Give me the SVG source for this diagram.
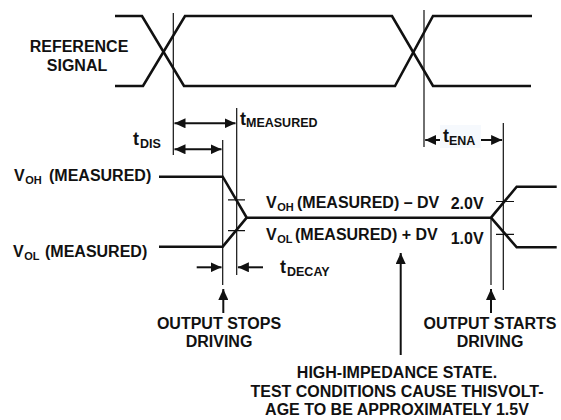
<svg xmlns="http://www.w3.org/2000/svg" width="561" height="420" viewBox="0 0 561 420">
<style>
text{font-family:"Liberation Sans",Arial,sans-serif;font-weight:bold;fill:#111}
.lb{font-size:16px}
.sub{font-size:11px}
.tt{font-size:18px}
.ts{font-size:12.5px}
.sig{fill:none;stroke:#111;stroke-width:2.6;stroke-linejoin:miter}
.thin{fill:none;stroke:#111;stroke-width:1.2}
.arr{fill:none;stroke:#111;stroke-width:2}
</style>
<defs>
<marker id="ah" markerUnits="userSpaceOnUse" markerWidth="12" markerHeight="10" refX="11" refY="5" orient="auto-start-reverse">
<path d="M0,0 L11,5 L0,10 z" fill="#111"/>
</marker>
</defs>
<rect width="561" height="420" fill="#fff"/>

<g id="reference-signal">
<path class="sig" d="M115,16 H142 L184,86 H395 L433,16 H532"/>
<path class="sig" d="M115,86 H143 L185,16 H392 L433,86 H531"/>
<text class="lb" x="79" y="52" text-anchor="middle">REFERENCE</text>
<text class="lb" x="77" y="71" text-anchor="middle">SIGNAL</text>
</g>

<g id="output-waveform">
<path class="sig" d="M159,176.7 H222.7 L246.7,217.7 H491 L516.7,186.7 H556.7"/>
<path class="sig" d="M159,246.7 H222.7 L246.7,217.7"/>
<path class="sig" d="M491,217.7 L516.7,247.3 H556.7"/>
<path class="thin" d="M228,199.8 H245 M228,230.7 H245 M496,201.5 H514 M496,234.3 H514"/>
</g>

<g id="connectors">
<path class="thin" d="M173.3,13 V155 M222.7,140 V285 M236.7,108 V275 M424,10 V147 M491,217.7 V285 M503.3,123 V290"/>
<path class="arr" d="M174.5,123.3 H235.5" marker-start="url(#ah)" marker-end="url(#ah)"/>
<path class="arr" d="M174.5,149.3 H221.5" marker-start="url(#ah)" marker-end="url(#ah)"/>
<path class="arr" d="M440,140 H425.2" marker-end="url(#ah)"/>
<path class="arr" d="M481,140 H502.1" marker-end="url(#ah)"/>
<path class="arr" d="M196.7,267.3 H221.5" marker-end="url(#ah)"/>
<path class="arr" d="M263,267.3 H237.9" marker-end="url(#ah)"/>
<path class="arr" d="M223.3,313 V289" marker-end="url(#ah)"/>
<path class="arr" d="M400.7,355 V253" marker-end="url(#ah)"/>
<path class="arr" d="M491,313 V289" marker-end="url(#ah)"/>
</g>

<g id="timing-labels">
<text x="240" y="125"><tspan class="tt">t</tspan><tspan class="ts" x="246" y="127">MEASURED</tspan></text>
<text x="133" y="145"><tspan class="tt">t</tspan><tspan class="ts" x="140" y="147.5">DIS</tspan></text>
<rect x="440" y="125" width="41" height="23" fill="#f6f9fd"/>
<text x="443" y="142"><tspan class="tt">t</tspan><tspan class="ts" x="449" y="145">ENA</tspan></text>
<text x="280" y="273"><tspan class="tt">t</tspan><tspan class="ts" x="287" y="276">DECAY</tspan></text>
</g>

<g id="voltage-labels">
<text class="lb" x="14" y="181">V<tspan class="sub" dx="0.5" y="184">OH</tspan><tspan x="49" y="181">(MEASURED)</tspan></text>
<text class="lb" x="13" y="257">V<tspan class="sub" dx="0.5" y="260">OL</tspan><tspan x="45" y="257">(MEASURED)</tspan></text>
<text class="lb" x="266" y="208.3">V<tspan class="sub" dx="0.5" y="211.3">OH</tspan><tspan x="297" y="208.3">(MEASURED) – DV</tspan></text>
<text class="lb" x="266" y="240">V<tspan class="sub" dx="0.5" y="243">OL</tspan><tspan x="295" y="240">(MEASURED) + DV</tspan></text>
<text class="lb" x="450.7" y="209.3">2.0V</text>
<text class="lb" x="450.7" y="244.3">1.0V</text>
</g>

<g id="output-stops">
<text class="lb" x="219" y="329" text-anchor="middle">OUTPUT STOPS</text>
<text class="lb" x="219" y="347" text-anchor="middle">DRIVING</text>
</g>
<g id="output-starts">
<text class="lb" x="490" y="329" text-anchor="middle">OUTPUT STARTS</text>
<text class="lb" x="490" y="347" text-anchor="middle">DRIVING</text>
</g>
<g id="high-impedance">
<text class="lb" x="397" y="378" text-anchor="middle">HIGH-IMPEDANCE STATE.</text>
<text class="lb" x="397" y="396.7" text-anchor="middle">TEST CONDITIONS CAUSE THISVOLT-</text>
<text class="lb" x="397" y="415" text-anchor="middle">AGE TO BE APPROXIMATELY 1.5V</text>
</g>
</svg>
